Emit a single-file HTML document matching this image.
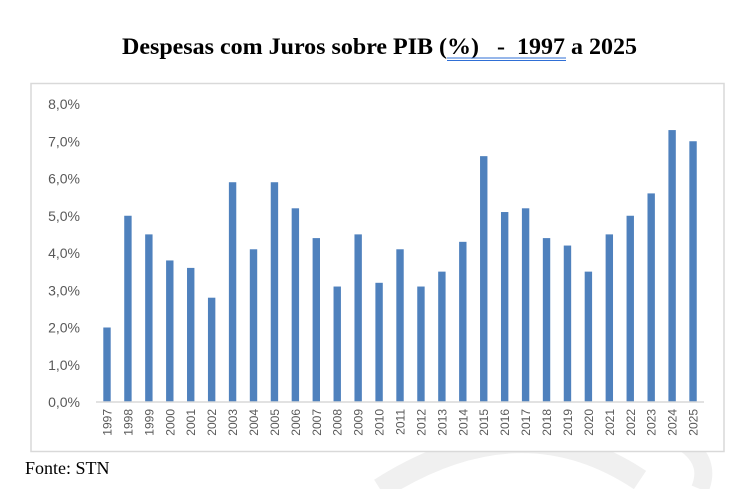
<!DOCTYPE html>
<html><head><meta charset="utf-8"><style>
html,body{margin:0;padding:0;background:#fff;width:746px;height:489px;overflow:hidden}
</style></head><body>
<svg width="746" height="489" xmlns="http://www.w3.org/2000/svg">
<path d="M380 489 Q520 400 640 480" fill="none" stroke="#f0f0f0" stroke-width="22"/>
<path d="M620 420 Q720 440 700 489" fill="none" stroke="#f0f0f0" stroke-width="18"/>
<text x="122" y="54" textLength="515" lengthAdjust="spacingAndGlyphs" xml:space="preserve" font-family="Liberation Serif, serif" font-weight="bold" font-size="23" fill="#000">Despesas com Juros sobre PIB (%)   -  1997 a 2025</text>
<line x1="447" y1="58" x2="566" y2="58" stroke="#2f6fd6" stroke-width="1"/>
<line x1="447" y1="60.5" x2="566" y2="60.5" stroke="#2f6fd6" stroke-width="1"/>
<rect x="31" y="83.5" width="693" height="368" fill="#fff" stroke="#d9d9d9" stroke-width="1.5"/>
<g font-family="Liberation Sans, sans-serif" font-size="14" fill="#595959" text-anchor="end">
<text x="80" y="407">0,0%</text><text x="80" y="369.75">1,0%</text><text x="80" y="332.5">2,0%</text>
<text x="80" y="295.25">3,0%</text><text x="80" y="258">4,0%</text><text x="80" y="220.75">5,0%</text>
<text x="80" y="183.5">6,0%</text><text x="80" y="146.25">7,0%</text><text x="80" y="109">8,0%</text>
</g>
<g fill="#4f81bd">
<rect x="103.3" y="327.5" width="7.4" height="74.5"/>
<rect x="124.23" y="215.75" width="7.4" height="186.25"/>
<rect x="145.16" y="234.38" width="7.4" height="167.63"/>
<rect x="166.09" y="260.45" width="7.4" height="141.55"/>
<rect x="187.02" y="267.9" width="7.4" height="134.1"/>
<rect x="207.95" y="297.7" width="7.4" height="104.3"/>
<rect x="228.88" y="182.23" width="7.4" height="219.78"/>
<rect x="249.81" y="249.28" width="7.4" height="152.73"/>
<rect x="270.74" y="182.23" width="7.4" height="219.78"/>
<rect x="291.67" y="208.3" width="7.4" height="193.7"/>
<rect x="312.6" y="238.1" width="7.4" height="163.9"/>
<rect x="333.53" y="286.53" width="7.4" height="115.48"/>
<rect x="354.46" y="234.38" width="7.4" height="167.63"/>
<rect x="375.39" y="282.8" width="7.4" height="119.2"/>
<rect x="396.32" y="249.28" width="7.4" height="152.73"/>
<rect x="417.25" y="286.53" width="7.4" height="115.48"/>
<rect x="438.18" y="271.63" width="7.4" height="130.38"/>
<rect x="459.11" y="241.83" width="7.4" height="160.18"/>
<rect x="480.04" y="156.15" width="7.4" height="245.85"/>
<rect x="500.97" y="212.03" width="7.4" height="189.98"/>
<rect x="521.9" y="208.3" width="7.4" height="193.7"/>
<rect x="542.83" y="238.1" width="7.4" height="163.9"/>
<rect x="563.76" y="245.55" width="7.4" height="156.45"/>
<rect x="584.69" y="271.63" width="7.4" height="130.38"/>
<rect x="605.62" y="234.38" width="7.4" height="167.63"/>
<rect x="626.55" y="215.75" width="7.4" height="186.25"/>
<rect x="647.48" y="193.4" width="7.4" height="208.6"/>
<rect x="668.41" y="130.08" width="7.4" height="271.93"/>
<rect x="689.34" y="141.25" width="7.4" height="260.75"/>
</g>
<line x1="96" y1="402" x2="704" y2="402" stroke="#d9d9d9" stroke-width="1.5"/>
<g font-family="Liberation Sans, sans-serif" font-size="12" fill="#595959" text-anchor="end">
<text transform="translate(111.5,409) rotate(-90)">1997</text>
<text transform="translate(132.43,409) rotate(-90)">1998</text>
<text transform="translate(153.36,409) rotate(-90)">1999</text>
<text transform="translate(174.29,409) rotate(-90)">2000</text>
<text transform="translate(195.22,409) rotate(-90)">2001</text>
<text transform="translate(216.15,409) rotate(-90)">2002</text>
<text transform="translate(237.08,409) rotate(-90)">2003</text>
<text transform="translate(258.01,409) rotate(-90)">2004</text>
<text transform="translate(278.94,409) rotate(-90)">2005</text>
<text transform="translate(299.87,409) rotate(-90)">2006</text>
<text transform="translate(320.8,409) rotate(-90)">2007</text>
<text transform="translate(341.73,409) rotate(-90)">2008</text>
<text transform="translate(362.66,409) rotate(-90)">2009</text>
<text transform="translate(383.59,409) rotate(-90)">2010</text>
<text transform="translate(404.52,409) rotate(-90)">2011</text>
<text transform="translate(425.45,409) rotate(-90)">2012</text>
<text transform="translate(446.38,409) rotate(-90)">2013</text>
<text transform="translate(467.31,409) rotate(-90)">2014</text>
<text transform="translate(488.24,409) rotate(-90)">2015</text>
<text transform="translate(509.17,409) rotate(-90)">2016</text>
<text transform="translate(530.1,409) rotate(-90)">2017</text>
<text transform="translate(551.03,409) rotate(-90)">2018</text>
<text transform="translate(571.96,409) rotate(-90)">2019</text>
<text transform="translate(592.89,409) rotate(-90)">2020</text>
<text transform="translate(613.82,409) rotate(-90)">2021</text>
<text transform="translate(634.75,409) rotate(-90)">2022</text>
<text transform="translate(655.68,409) rotate(-90)">2023</text>
<text transform="translate(676.61,409) rotate(-90)">2024</text>
<text transform="translate(697.54,409) rotate(-90)">2025</text>
</g>
<text x="25" y="474" font-family="Liberation Serif, serif" font-size="18" fill="#000">Fonte: STN</text>
</svg>
</body></html>
